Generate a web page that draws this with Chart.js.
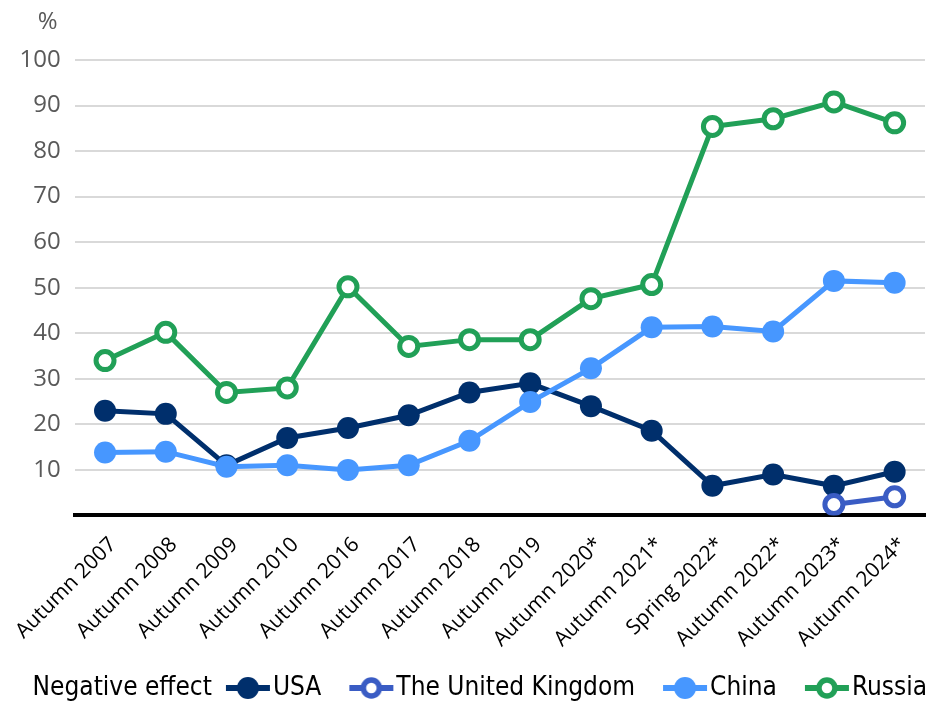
<!DOCTYPE html>
<html>
<head>
<meta charset="utf-8">
<script src="https://cdn.jsdelivr.net/npm/chart.js@4"></script>
<style>
  html, body { margin: 0; padding: 0; background: #fff; }
  #wrap { width: 941px; height: 711px; }
</style>
</head>
<body>
<div id="wrap"><canvas id="effectChart"></canvas></div>
<script>
// survey waves (x axis)
const waves = ['Autumn 2007', 'Autumn 2008', 'Autumn 2009', 'Autumn 2010', 'Autumn 2016', 'Autumn 2017',
  'Autumn 2018', 'Autumn 2019', 'Autumn 2020*', 'Autumn 2021*', 'Spring 2022*', 'Autumn 2022*',
  'Autumn 2023*', 'Autumn 2024*'];

// share answering "negative effect", %
const usa = [23, 22.3, 11, 17, 19.2, 22, 27, 29, 24, 18.6, 6.5, 9, 6.5, 9.6];
const uk = [null, null, null, null, null, null, null, null, null, null, null, null, 2.4, 4.1];
const china = [13.8, 14, 10.7, 11, 10, 11, 16.4, 24.9, 32.3, 41.3, 41.5, 40.4, 51.5, 51.1];
const russia = [34, 40.2, 27, 28, 50.2, 37.1, 38.6, 38.6, 47.6, 50.7, 85.4, 87.1, 90.8, 86.2];

const yTicks = [10, 20, 30, 40, 50, 60, 70, 80, 90, 100];

const colUSA = '#002f6c';
const colUK = '#3a5cc4';
const colChina = '#4797ff';
const colRussia = '#21a057';

const condensed = "'Liberation Sans Narrow', 'DejaVu Sans Condensed', 'Open Sans', sans-serif";
const legendFontSize = 26;
const legendPad = 14;
const boxW = 48; // legend box slot, marker sits at its right end

// line+marker picture for the legend; left part is transparent so the
// marker lands right before the label text
function legendMarker(color, hollow) {
  const c = document.createElement('canvas');
  const vis = 46;
  c.width = boxW + 22; c.height = 26;
  const g = c.getContext('2d');
  const x0 = c.width - vis;
  g.strokeStyle = color;
  g.lineWidth = 6;
  g.beginPath(); g.moveTo(x0 + 1, 13); g.lineTo(c.width - 1, 13); g.stroke();
  g.beginPath(); g.arc(x0 + vis / 2, 13, hollow ? 8 : 11, 0, Math.PI * 2);
  if (hollow) {
    g.fillStyle = '#fff'; g.fill();
    g.lineWidth = 5.5; g.stroke();
  } else {
    g.fillStyle = color; g.fill();
  }
  return c;
}

// "%" above the value axis and the "Negative effect" lead-in of the legend
const extraText = {
  id: 'extraText',
  afterDraw(chart) {
    const y = chart.scales.y;
    const ctx = chart.ctx;
    ctx.save();
    ctx.font = "24px 'Open Sans', sans-serif";
    ctx.fillStyle = '#595959';
    ctx.textAlign = 'right';
    ctx.textBaseline = 'middle';
    ctx.fillText('%', y.right - 17, 22);
    const hb = chart.legend.legendHitBoxes[0];
    if (hb) {
      ctx.font = legendFontSize + 'px ' + condensed;
      ctx.fillStyle = '#000';
      ctx.fillText('Negative effect', hb.left, hb.top + hb.height / 2);
    }
    ctx.restore();
  }
};

const ds = (label, data, color, hollow) => ({
  label,
  data,
  borderColor: color,
  backgroundColor: hollow ? '#ffffff' : color,
  pointBackgroundColor: hollow ? '#ffffff' : color,
  pointBorderColor: color,
  borderWidth: 5,
  pointRadius: hollow ? 9 : 11,
  pointBorderWidth: hollow ? 5 : 0,
  pointHoverRadius: 11,
  fill: false,
  tension: 0,
  spanGaps: false,
  marker: legendMarker(color, hollow)
});

new Chart(document.getElementById('effectChart'), {
  type: 'line',
  data: {
    labels: waves,
    datasets: [
      ds('USA', usa, colUSA, false),
      ds('The United Kingdom', uk, colUK, true),
      ds('China', china, colChina, false),
      ds('Russia', russia, colRussia, true)
    ].reverse()
  },
  options: {
    responsive: true,
    maintainAspectRatio: false,
    animation: false,
    layout: { padding: { top: 60, right: 0, left: 0, bottom: 0 } },
    plugins: {
      tooltip: { enabled: false },
      legend: {
        position: 'bottom',
        align: 'end',
        labels: {
          usePointStyle: true,
          pointStyleWidth: boxW,
          padding: legendPad,
          color: '#000',
          font: { family: condensed, size: legendFontSize },
          generateLabels(chart) {
            const sets = chart.data.datasets.slice().reverse();
            return sets.map(d => ({
              text: d.label,
              pointStyle: d.marker,
              fontColor: '#000',
              lineWidth: 0,
              strokeStyle: 'transparent',
              fillStyle: 'transparent',
              datasetIndex: chart.data.datasets.indexOf(d)
            }));
          }
        }
      }
    },
    scales: {
      x: {
        offset: true,
        grid: { display: false },
        border: { display: true, color: '#000', width: 4 },
        ticks: {
          color: '#000',
          maxRotation: 45,
          minRotation: 45,
          padding: 9,
          labelOffset: 8,
          font: { family: "'Open Sans', sans-serif", size: 21 }
        }
      },
      y: {
        min: 0,
        max: 100,
        afterBuildTicks(scale) {
          scale.ticks = [0].concat(yTicks).map(v => ({ value: v }));
        },
        border: { display: false },
        grid: {
          color: ctx => ctx.tick && ctx.tick.value === 0 ? 'transparent' : '#d9d9d9',
          lineWidth: 2,
          drawTicks: false
        },
        ticks: {
          color: '#595959',
          padding: 14,
          font: { family: "'Open Sans', sans-serif", size: 24 },
          callback: v => v === 0 ? '' : v
        }
      },
      // empty right-hand axis, only keeps the plot clear of the right edge
      spacer: {
        type: 'linear',
        position: 'right',
        display: true,
        grid: { display: false, drawOnChartArea: false },
        border: { display: false },
        ticks: { display: false },
        afterFit(scale) { scale.width = 16; }
      }
    }
  },
  plugins: [extraText]
});
</script>
</body>
</html>
